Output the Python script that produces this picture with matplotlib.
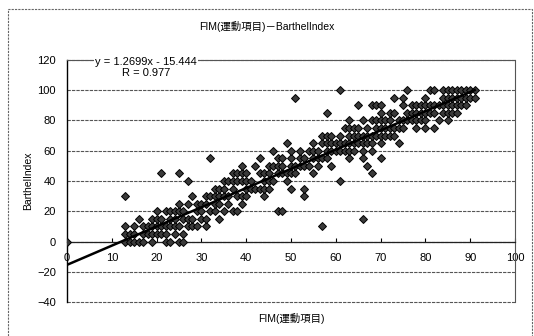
import matplotlib
matplotlib.use("Agg")
import matplotlib.pyplot as plt
import numpy as np

plt.rcParams['font.family'] = ['Liberation Sans', 'Noto Sans CJK JP', 'DejaVu Sans']

# FIM motor score vs Barthel Index, one entry per patient (rows grouped by BI level)
fim = [
    0, 13, 14, 15, 16, 17, 19, 22, 23, 25, 26,
    13, 14, 15, 17, 18, 19, 20, 21, 22, 24, 26,
    13, 15, 17, 18, 19, 20, 21, 22, 23, 24, 25, 27, 28, 29, 31, 57,
    16, 19, 20, 21, 23, 24, 26, 27, 28, 30, 31, 34, 66,
    20, 22, 23, 24, 25, 26, 29, 30, 32, 33, 35, 37, 38, 47, 48,
    25, 27, 29, 30, 31, 33, 34, 36, 39,
    13, 28, 31, 32, 33, 34, 35, 36, 38, 39, 40, 44, 53,
    33, 34, 35, 37, 40, 41, 42, 43, 44, 45, 50, 53,
    27, 35, 36, 37, 38, 39, 40, 41, 44, 45, 46, 49, 61,
    21, 25, 37, 38, 39, 40, 43, 44, 45, 47, 48, 49, 50, 51, 55, 68,
    39, 42, 45, 46, 47, 48, 50, 51, 52, 53, 54, 56, 59, 67,
    32, 43, 47, 48, 50, 52, 53, 55, 56, 57, 58, 63, 66, 70,
    46, 50, 52, 54, 55, 56, 58, 59, 60, 61, 62, 63, 64, 66, 68,
    49, 55, 57, 58, 59, 60, 61, 62, 63, 64, 65, 66, 67, 68, 70, 74,
    57, 58, 59, 61, 63, 64, 65, 66, 67, 68, 69, 70, 71, 72, 73,
    62, 63, 64, 65, 67, 69, 70, 71, 72, 73, 74, 75, 78, 80, 82,
    63, 66, 68, 69, 70, 71, 72, 74, 75, 76, 77, 78, 79, 80, 83, 85,
    58, 70, 72, 73, 76, 77, 78, 79, 80, 81, 82, 84, 85, 86, 87,
    65, 68, 69, 70, 75, 77, 78, 79, 80, 81, 82, 83, 84, 85, 86, 87, 88, 89,
    51, 73, 75, 80, 84, 85, 86, 87, 88, 89, 90, 91,
    61, 76, 81, 82, 84, 85, 86, 87, 88, 89, 90, 91,
]
barthel = [
    0, 0, 0, 0, 0, 0, 0, 0, 0, 0, 0,
    5, 5, 5, 5, 5, 5, 5, 5, 5, 5, 5,
    10, 10, 10, 10, 10, 10, 10, 10, 10, 10, 10, 10, 10, 10, 10, 10,
    15, 15, 15, 15, 15, 15, 15, 15, 15, 15, 15, 15, 15,
    20, 20, 20, 20, 20, 20, 20, 20, 20, 20, 20, 20, 20, 20, 20,
    25, 25, 25, 25, 25, 25, 25, 25, 25,
    30, 30, 30, 30, 30, 30, 30, 30, 30, 30, 30, 30, 30,
    35, 35, 35, 35, 35, 35, 35, 35, 35, 35, 35, 35,
    40, 40, 40, 40, 40, 40, 40, 40, 40, 40, 40, 40, 40,
    45, 45, 45, 45, 45, 45, 45, 45, 45, 45, 45, 45, 45, 45, 45, 45,
    50, 50, 50, 50, 50, 50, 50, 50, 50, 50, 50, 50, 50, 50,
    55, 55, 55, 55, 55, 55, 55, 55, 55, 55, 55, 55, 55, 55,
    60, 60, 60, 60, 60, 60, 60, 60, 60, 60, 60, 60, 60, 60, 60,
    65, 65, 65, 65, 65, 65, 65, 65, 65, 65, 65, 65, 65, 65, 65, 65,
    70, 70, 70, 70, 70, 70, 70, 70, 70, 70, 70, 70, 70, 70, 70,
    75, 75, 75, 75, 75, 75, 75, 75, 75, 75, 75, 75, 75, 75, 75,
    80, 80, 80, 80, 80, 80, 80, 80, 80, 80, 80, 80, 80, 80, 80, 80,
    85, 85, 85, 85, 85, 85, 85, 85, 85, 85, 85, 85, 85, 85, 85,
    90, 90, 90, 90, 90, 90, 90, 90, 90, 90, 90, 90, 90, 90, 90, 90, 90, 90,
    95, 95, 95, 95, 95, 95, 95, 95, 95, 95, 95, 95,
    100, 100, 100, 100, 100, 100, 100, 100, 100, 100, 100, 100,
]

# linear trendline as reported on the chart
slope = 1.2699
intercept = -15.444
r_value = 0.977

x_ticks = [0, 10, 20, 30, 40, 50, 60, 70, 80, 90, 100]
y_ticks = [-40, -20, 0, 20, 40, 60, 80, 100, 120]

fig = plt.figure(figsize=(5.34, 3.36), dpi=100)
ax = fig.add_axes([67 / 534, 1 - 302 / 336, 448 / 534, 242 / 336])

ax.plot(fim, barthel, linestyle="none", marker="D", markersize=4.2,
        markerfacecolor="#3a3a3a", markeredgecolor="black", markeredgewidth=0.7, zorder=3)

tx = np.array([0, max(fim)])
ax.plot(tx, slope * tx + intercept, color="black", linewidth=1.8, zorder=4)

ax.set_xlim(0, 100)
ax.set_ylim(-40, 120)
ax.set_xticks(x_ticks)
ax.set_yticks(y_ticks)
ax.tick_params(axis="x", direction="in", length=3, pad=8, labelsize=8)
ax.tick_params(axis="y", length=0, pad=8, labelsize=8)

# horizontal gridlines, plot area border dotted grey
ax.yaxis.grid(True, color="#555555", linestyle=(0, (3, 1)), linewidth=0.8)
for gl in ax.get_ygridlines():
    gl.set_clip_on(False)
ax.set_axisbelow(True)
for side in ("top", "right"):
    ax.spines[side].set_color("#555555")
    ax.spines[side].set_linestyle((0, (3, 1)))
    ax.spines[side].set_linewidth(0.8)
ax.spines["left"].set_color("black")
ax.spines["left"].set_linewidth(1.0)
ax.spines["bottom"].set_position(("data", 0))
ax.spines["bottom"].set_color("#222222")
ax.spines["bottom"].set_linewidth(0.9)

ax.text(17.6, 122.2, f"y = {slope:.4f}x - {abs(intercept):.3f}\nR = {r_value:.3f}",
        ha="center", va="top", fontsize=8, multialignment="center", linespacing=1.15,
        bbox=dict(facecolor="white", edgecolor="none", pad=1.0), zorder=5)

fig.text(0.5, 1 - 26 / 336, "FIM(運動項目)－BarthelIndex", ha="center", va="center", fontsize=7.5)
fig.text(291 / 534, 1 - 318 / 336, "FIM(運動項目)", ha="center", va="center", fontsize=7.5)
fig.text(28 / 534, 1 - 181 / 336, "BarthelIndex", ha="center", va="center",
         rotation=90, fontsize=7.5)

# dotted frame around the whole chart
frame = plt.Rectangle((8 / 534, -0.05), 524 / 534, 1.05 - 9 / 336, transform=fig.transFigure,
                      fill=False, edgecolor="#666666", linestyle=(0, (2, 1)), linewidth=0.8)
fig.patches.append(frame)

fig.savefig("out.png", dpi=100)
